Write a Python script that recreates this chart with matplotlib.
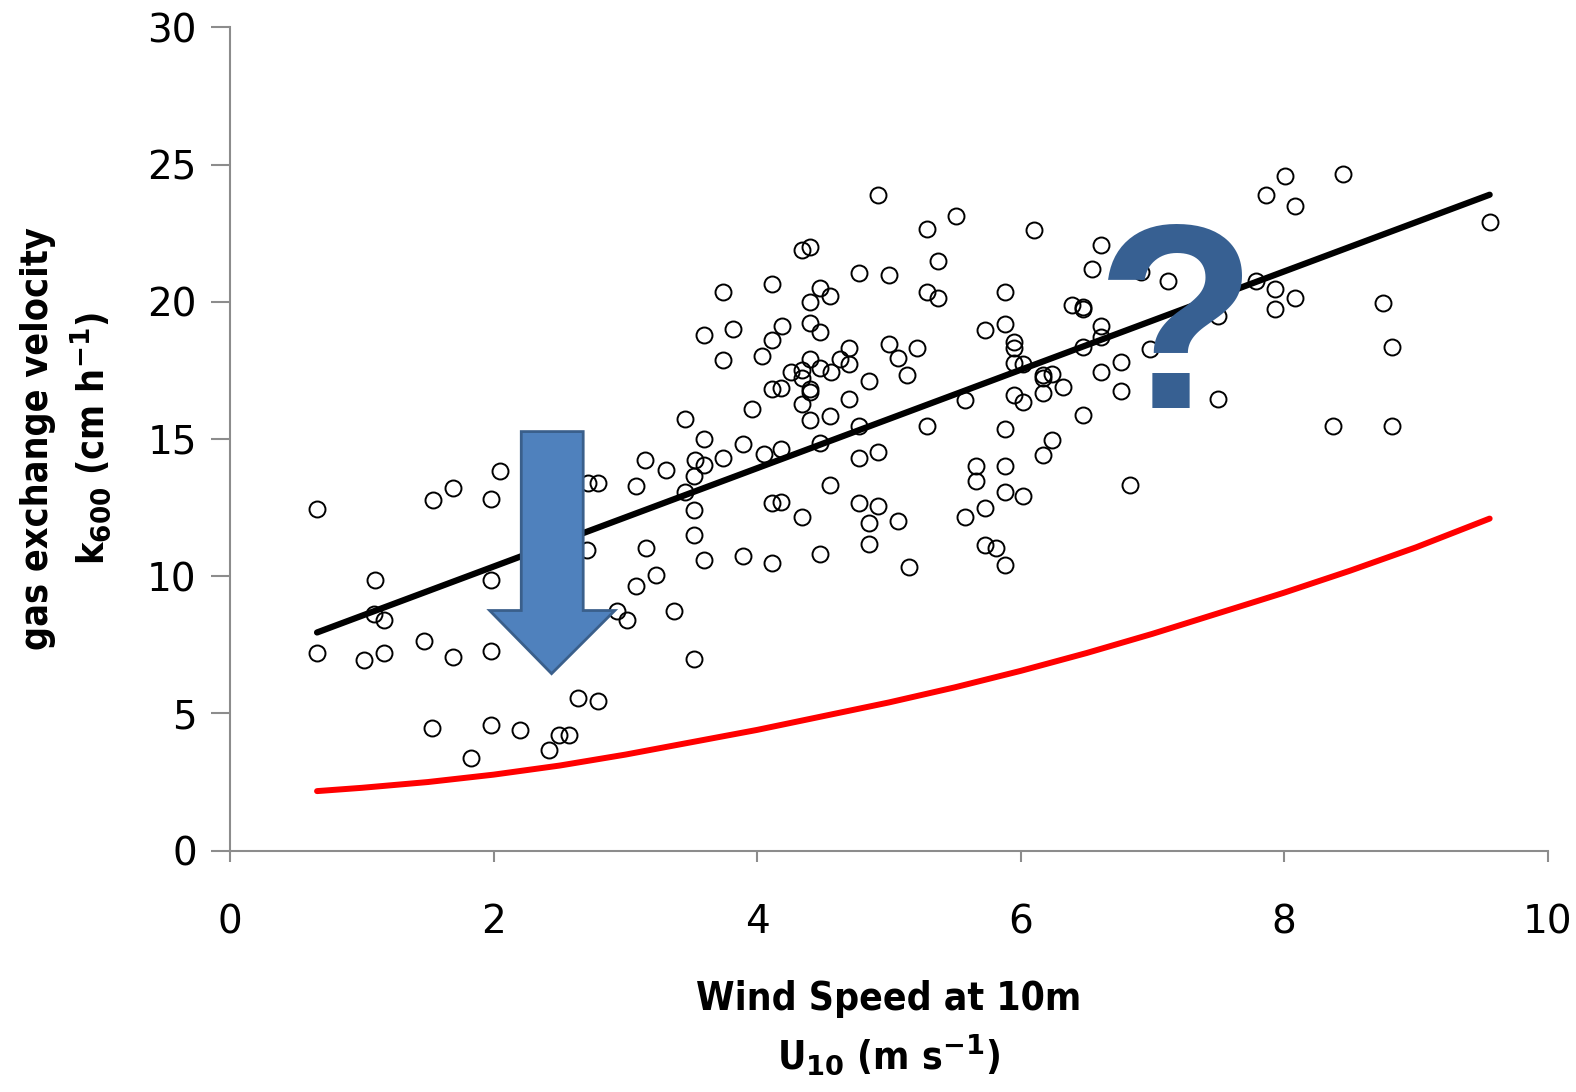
import matplotlib.pyplot as plt
from matplotlib.patches import Polygon

wind = [0.66, 0.66, 1.10, 1.09, 1.17, 1.02, 1.17, 1.47, 1.54, 1.69, 1.69, 1.53, 1.83, 1.98, 2.05,
        1.98, 1.98, 1.98, 2.20, 2.42, 2.50, 2.57, 2.64, 2.79, 2.71, 2.79, 2.72, 2.94, 3.01, 3.08,
        3.16, 3.08, 3.15, 3.31, 3.23, 3.37, 3.45, 3.45, 3.52, 3.52, 3.52, 3.53, 3.52, 3.60, 3.60,
        3.60, 3.60, 3.74, 3.74, 3.74, 3.82, 3.89, 3.89, 3.96, 4.04, 4.05, 4.11, 4.11, 4.11, 4.11,
        4.11, 4.18, 4.18, 4.18, 4.19, 4.26, 4.34, 4.34, 4.34, 4.34, 4.34, 4.40, 4.40, 4.40, 4.40,
        4.40, 4.40, 4.40, 4.48, 4.48, 4.48, 4.48, 4.48, 4.55, 4.56, 4.55, 4.55, 4.63, 4.70, 4.70,
        4.70, 4.77, 4.77, 4.77, 4.77, 4.85, 4.85, 4.85, 4.92, 4.92, 4.92, 5.00, 5.00, 5.07, 5.07,
        5.14, 5.15, 5.21, 5.29, 5.29, 5.29, 5.37, 5.37, 5.51, 5.58, 5.58, 5.66, 5.66, 5.73, 5.73,
        5.73, 5.81, 5.88, 5.88, 5.88, 5.88, 5.88, 5.88, 5.95, 5.95, 5.95, 5.95, 6.02, 6.02, 6.02,
        6.10, 6.17, 6.17, 6.17, 6.17, 6.24, 6.24, 6.32, 6.39, 6.47, 6.47, 6.47, 6.47, 6.54, 6.61,
        6.61, 6.61, 6.61, 6.76, 6.76, 6.83, 6.91, 6.98, 7.12, 7.50, 7.50, 7.79, 7.86, 8.01, 7.93,
        7.93, 8.08, 8.08, 8.45, 8.37, 8.75, 8.82, 8.82, 9.56]
k600 = [12.45, 7.20, 9.85, 8.64, 8.39, 6.96, 7.20, 7.65, 12.78, 13.20, 7.07, 4.47, 3.37, 12.80, 13.85,
        9.85, 7.29, 4.58, 4.40, 3.66, 4.21, 4.21, 5.57, 5.46, 10.95, 13.40, 13.40, 8.72, 8.39, 9.63,
        11.03, 13.30, 14.25, 13.88, 10.04, 8.72, 15.71, 13.08, 12.42, 11.50, 13.66, 14.25, 7.00, 15.00, 14.07,
        10.59, 18.79, 20.37, 17.88, 14.32, 19.01, 14.80, 10.73, 16.08, 18.02, 14.47, 20.66, 18.61, 16.81, 12.67,
        10.48, 16.85, 14.62, 12.71, 19.12, 17.44, 21.90, 17.50, 17.22, 16.26, 12.16, 22.01, 20.00, 19.23, 17.91,
        16.81, 16.70, 15.68, 20.50, 18.90, 17.58, 14.87, 10.81, 20.22, 17.44, 15.82, 13.33, 17.91, 18.32, 17.73,
        16.45, 21.03, 15.46, 14.32, 12.67, 17.11, 11.94, 11.17, 23.88, 14.51, 12.56, 20.99, 18.46, 17.95, 12.01,
        17.33, 10.33, 18.32, 22.64, 20.37, 15.46, 21.47, 20.15, 23.11, 16.41, 12.16, 14.03, 13.48, 18.97, 12.49,
        11.14, 11.03, 20.37, 19.19, 15.38, 14.03, 13.08, 10.40, 18.53, 18.32, 17.77, 16.59, 17.73, 16.34, 12.93,
        22.60, 17.33, 17.22, 16.67, 14.40, 17.36, 14.95, 16.89, 19.89, 19.82, 19.74, 18.35, 15.86, 21.21, 22.05,
        19.12, 18.72, 17.44, 17.80, 16.74, 13.33, 21.10, 18.28, 20.77, 19.49, 16.45, 20.77, 23.88, 24.58, 20.48,
        19.74, 23.48, 20.15, 24.65, 15.46, 19.96, 18.35, 15.49, 22.89]

# regression line end points
fit_x = [0.66, 9.56]
fit_y = [7.95, 23.9]

# red model curve
model_x = [0.66, 1.0, 1.5, 2.0, 2.5, 3.0, 3.5, 4.0, 4.5, 5.0, 5.5, 6.0, 6.5, 7.0, 7.5, 8.0, 8.5, 9.0, 9.56]
model_y = [2.17, 2.29, 2.50, 2.77, 3.10, 3.50, 3.95, 4.40, 4.90, 5.40, 5.95, 6.55, 7.20, 7.90, 8.65, 9.40, 10.20, 11.05, 12.10]

plt.rcParams['font.family'] = ['DejaVu Sans']
fig = plt.figure(figsize=(15.76, 10.92), dpi=100)
ax = fig.add_axes([0.146, 0.221, 0.836, 0.754])

ax.plot(model_x, model_y, color="#FF0000", lw=4.3, solid_capstyle="round", zorder=2)
ax.plot(fit_x, fit_y, color="black", lw=4.5, solid_capstyle="round", zorder=3)
ax.plot(wind, k600, "o", mfc="none", mec="black", mew=1.4, ms=11.5, zorder=4)

# blue down arrow
arrow = Polygon([(2.21, 15.27), (2.68, 15.27), (2.68, 8.75), (2.92, 8.75),
                 (2.44, 6.45), (1.97, 8.75), (2.21, 8.75)],
                closed=True, facecolor="#4F81BD", edgecolor="#3A5F8B", lw=2, zorder=5)
ax.add_patch(arrow)

ax.text(7.18, 18.6, "?", color="#376092", fontsize=190, fontweight="bold",
        family=["Liberation Sans", "DejaVu Sans"], ha="center", va="center", zorder=5)

ax.set_xlim(0, 10)
ax.set_ylim(0, 30)
ax.set_xticks(range(0, 11, 2))
ax.set_yticks(range(0, 31, 5))
for s in ["top", "right"]:
    ax.spines[s].set_visible(False)
for s in ["left", "bottom"]:
    ax.spines[s].set_color("#8c8c8c")
    ax.spines[s].set_linewidth(1.5)
ax.tick_params(axis="both", colors="#8c8c8c", width=1.5, labelcolor="black", labelsize=28)
ax.tick_params(axis="y", length=14, pad=10)
ax.tick_params(axis="x", length=8, pad=30)

ax.set_xlabel("Wind Speed at 10m\nU$_{\\mathbf{10}}$ (m s$^{\\mathbf{-1}}$)", fontsize=28,
              fontweight="bold", fontstretch="condensed", labelpad=28, linespacing=1.4)
ax.set_ylabel("gas exchange velocity\nk$_{\\mathbf{600}}$ (cm h$^{\\mathbf{-1}}$)", fontsize=27,
              fontweight="bold", fontstretch="condensed", labelpad=24, linespacing=1.35)

fig.savefig("out.png", dpi=100)
